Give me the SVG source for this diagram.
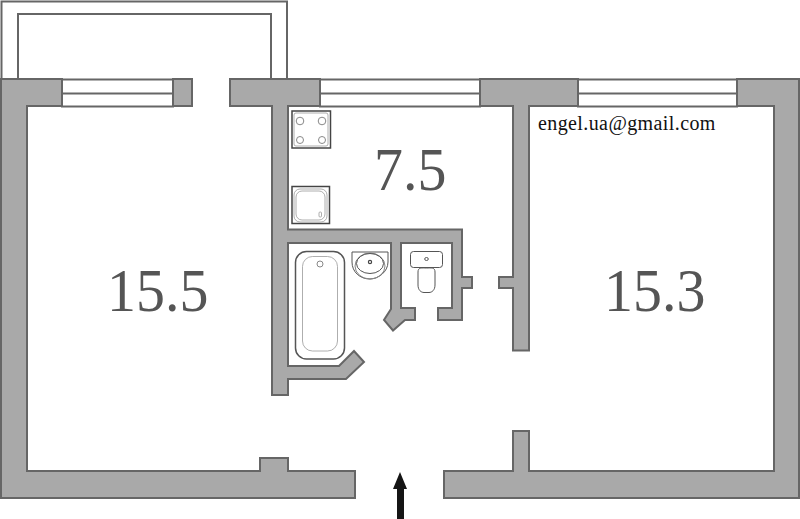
<svg xmlns="http://www.w3.org/2000/svg" width="800" height="519" viewBox="0 0 800 519">
<style>
.w{fill:#a9a9a9;stroke:#666;stroke-width:2;stroke-linejoin:miter}
.l{fill:none;stroke:#666;stroke-width:2}
.wi{fill:#fff;stroke:#666;stroke-width:2}
.f{fill:#fff;stroke:#444;stroke-width:1.5}
.t{fill:none;stroke:#999;stroke-width:.8}
.c{fill:none;stroke:#888;stroke-width:1}
.n{font-family:"Liberation Serif","Times New Roman",serif;font-size:61px;fill:#555}
</style>
<rect width="800" height="519" fill="#fff"/>
<path class="l" d="M1.500 79V1.500H287V79M18 79V14H271V79"/>
<rect class="wi" x="62" y="79.500" width="111" height="27"/>
<path class="l" d="M62 93.500H173"/>
<rect class="wi" x="320" y="79.500" width="160" height="27"/>
<path class="l" d="M320 93.500H480"/>
<rect class="wi" x="578" y="79.500" width="159" height="27"/>
<path class="l" d="M578 93.500H737"/>
<path class="w" d="M1 79H62V106H27V471H260V458H288V471H355V498H1Z"/>
<rect class="w" x="173" y="79" width="19" height="27"/>
<path class="w" d="M230 79H320V106H288V229.500H462V277H472V288H462V320H438V308H452V243H401V308H415V320H405L393 330.500L384 320L391 309V243H288V366H339L354 351L364 362L346 379H288V395H272V106H230Z"/>
<path class="w" d="M480 79H578V106H529V350.500H513V288H499V277H513V106H480Z"/>
<path class="w" d="M737 79H799V498H444V471H513V431H529V471H774V106H737Z"/>
<g id="stove">
<rect class="f" x="292" y="111" width="38.500" height="37"/>
<rect class="t" x="294" y="113" width="34" height="33" rx="2"/>
<circle class="c" cx="300" cy="121" r="3.800"/><circle class="c" cx="322" cy="121" r="3.800"/>
<circle class="c" cx="300" cy="140" r="3.500"/><circle class="c" cx="322" cy="140" r="3.500"/>
</g>
<g id="sink">
<rect class="f" x="292" y="186.500" width="37.500" height="37"/>
<rect class="t" x="294" y="189" width="33" height="33" rx="6"/>
<rect class="t" x="296" y="191" width="29" height="29" rx="6"/>
<rect class="t" x="319" y="212" width="2.500" height="5" rx="1"/>
</g>
<g id="bath">
<rect x="295.500" y="251.500" width="49" height="107.500" rx="11" fill="#fff" stroke="#555" stroke-width="1.500"/>
<rect class="t" x="302.500" y="256.500" width="35" height="94.500" rx="10"/>
<circle class="c" cx="320" cy="264" r="3"/>
</g>
<g id="basin">
<path fill="#fff" stroke="#555" stroke-width="1" d="M352 252H388V262C388 272 378 279 370 279C360 279 352 272 352 262Z"/>
<ellipse class="c" cx="370" cy="266" rx="15" ry="13"/>
<ellipse fill="none" stroke="#555" cx="370" cy="263.500" rx="13.500" ry="10"/>
<circle fill="none" stroke="#444" stroke-width="1.200" cx="370" cy="262" r="1.600"/>
</g>
<g id="toilet">
<rect fill="#fff" stroke="#555" stroke-width="1" x="410.500" y="251.500" width="32" height="16" rx="3"/>
<ellipse fill="none" stroke="#555" cx="426.500" cy="259" rx="1.800" ry="1.500"/>
<path fill="#fff" stroke="#555" stroke-width="1" d="M418 272C418 267 422 268 426.500 268C431 268 435 267 435 272V285C435 290 432 292.500 429 292.500H424C421 292.500 418 290 418 285Z"/>
</g>
<text class="n" transform="translate(107 311) scale(.95 1)">15.5</text>
<text class="n" transform="translate(374 190) scale(.95 1)">7.5</text>
<text class="n" transform="translate(604 311) scale(.95 1)">15.3</text>
<text x="538" y="130" font-family="'Liberation Serif','Times New Roman',serif" font-size="20" letter-spacing=".4" fill="#111">engel.ua@gmail.com</text>
<path id="arrow" fill="#151515" d="M400 472L407 489H404V519H397V489H393Z"/>
</svg>
